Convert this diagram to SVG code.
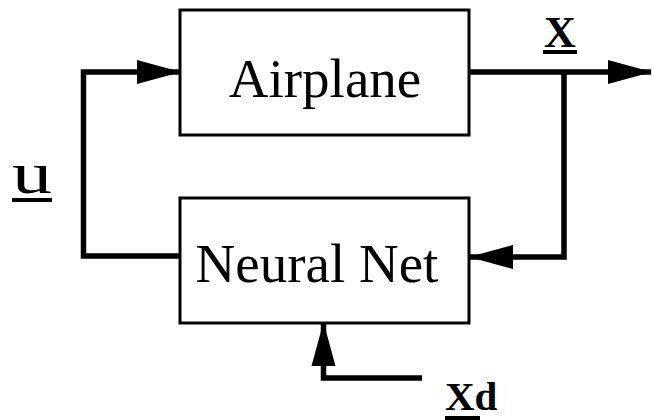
<svg xmlns="http://www.w3.org/2000/svg" width="652" height="420" viewBox="0 0 652 420">
  <defs>
    <style>
      .box { fill: #ffffff; stroke: #000000; stroke-width: 3; }
      .wire { fill: none; stroke: #000000; stroke-width: 5.5; stroke-linejoin: miter; }
      .title { font-family: "Liberation Serif", "DejaVu Serif", serif; font-size: 55px; fill: #000000; text-anchor: middle; }
      .sym { font-family: "Liberation Serif", "DejaVu Serif", serif; font-weight: bold; fill: #000000; }
      .bar { fill: #000000; }
    </style>
    <marker id="head" viewBox="0 0 44 24" markerUnits="userSpaceOnUse" markerWidth="44" markerHeight="24" refX="43" refY="12" orient="auto" overflow="visible">
      <path d="M0,0 L44,12 L0,24 Z" fill="#000000"/>
    </marker>
  </defs>

  <rect width="652" height="420" fill="#ffffff"/>

  <!-- signal lines -->
  <g id="connectors">
    <path class="wire" d="M180,256 H83.5 V72 H180" marker-end="url(#head)"/>
    <path class="wire" d="M469,72 H651" marker-end="url(#head)"/>
    <path class="wire" d="M564,72 V257 H470" marker-end="url(#head)"/>
    <path class="wire" d="M422,378 H323.5 V323" marker-end="url(#head)"/>
  </g>

  <g id="airplane">
    <rect class="box" x="180" y="10" width="289" height="125"/>
    <text class="title" x="325" y="97">Airplane</text>
  </g>

  <g id="neural-net">
    <rect class="box" x="180" y="198" width="289" height="125"/>
    <text class="title" x="317" y="282">Neural Net</text>
  </g>

  <!-- vector labels, underlined -->
  <g id="label-x">
    <text class="sym" x="560" y="47" font-size="44" text-anchor="middle">X</text>
    <rect class="bar" x="543" y="50" width="34" height="4"/>
  </g>

  <g id="label-u">
    <text x="12" y="193" font-family="Liberation Serif, DejaVu Serif, serif" font-size="60" textLength="40" lengthAdjust="spacingAndGlyphs" fill="#000000">u</text>
    <rect class="bar" x="12" y="198" width="40" height="4"/>
  </g>

  <g id="label-xd">
    <text class="sym" x="445" y="410" font-size="41">Xd</text>
    <rect class="bar" x="445" y="416" width="35" height="4"/>
  </g>
</svg>
